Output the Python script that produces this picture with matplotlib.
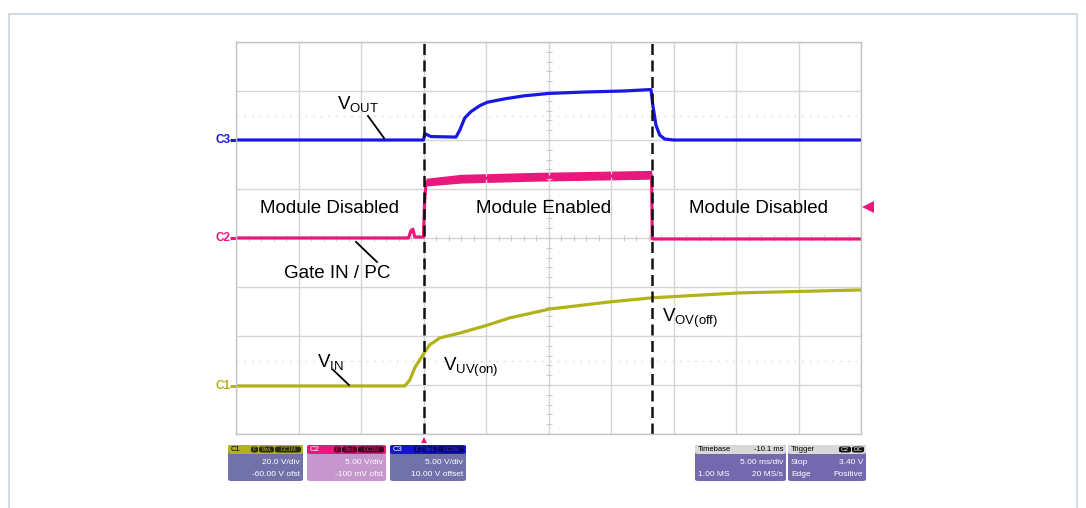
import numpy as np
import matplotlib
matplotlib.use('Agg')
import matplotlib.pyplot as plt
from matplotlib.patches import Rectangle, FancyBboxPatch

plt.rcParams['font.family'] = ['Liberation Sans', 'DejaVu Sans']
plt.rcParams['mathtext.fontset'] = 'custom'
plt.rcParams['mathtext.rm'] = 'Liberation Sans'

# ---- trace data (time in ms, amplitude in divisions) ----
t_c3 = [0, 15.0, 15.1, 15.6, 17.6, 17.9, 18.3, 18.8, 19.5, 20.1, 21.5, 23.0, 25.0, 28.0, 31.0, 33.2, 33.35, 33.6, 33.9, 34.3, 35.0, 50]
v_c3 = [6.0, 6.0, 6.13, 6.07, 6.06, 6.2, 6.45, 6.58, 6.7, 6.77, 6.84, 6.9, 6.95, 6.98, 7.0, 7.03, 6.7, 6.3, 6.1, 6.02, 6.0, 6.0]

t_c2 = [0, 13.8, 14.0, 14.15, 14.3, 15.0, 15.08, 15.2, 20.0, 33.25, 33.3, 50]
v_c2 = [4.0, 4.0, 4.15, 4.18, 4.02, 4.02, 4.7, 5.14, 5.22, 5.28, 3.98, 3.98]
t_c2_band = [15.2, 18.0, 24.0, 33.25]
c2_band_lo = [5.06, 5.12, 5.16, 5.2]
c2_band_hi = [5.22, 5.3, 5.34, 5.38]

t_c1 = [0, 13.5, 13.9, 14.3, 15.04, 15.5, 16.3, 17.9, 20.1, 21.9, 25.1, 29.7, 33.3, 40.3, 50]
v_c1 = [0.98, 0.98, 1.1, 1.35, 1.65, 1.82, 1.96, 2.06, 2.22, 2.37, 2.55, 2.69, 2.78, 2.88, 2.94]

marker_times = [15.04, 33.28]

C_BLUE = '#1818e0'
C_MAG = '#e8187c'
C_OLIVE = '#b2b21c'

W, H = 1086, 508
fig = plt.figure(figsize=(W / 100, H / 100), dpi=100)
fig.patch.set_facecolor('white')

def fx(px):
    return px / W

def fy(py):
    return 1 - py / H

# outer frame
fig.patches.append(Rectangle((fx(9), fy(530)), fx(1068), fy(14) - fy(530),
                             transform=fig.transFigure, fill=False, edgecolor='#c9d5dd', linewidth=1.2))

ax = fig.add_axes([fx(236), fy(434), fx(861 - 236), (434 - 42) / H])
ax.set_xlim(0, 50)
ax.set_ylim(0, 8)
ax.set_xticks(np.arange(0, 51, 5))
ax.set_yticks(np.arange(0, 9, 1))
ax.tick_params(length=0, labelbottom=False, labelleft=False)
ax.grid(True, color='#d6d6d6', linewidth=1.0)
for s in ax.spines.values():
    s.set_color('#c4c4c4')
    s.set_linewidth(1.0)

# center-line minor ticks and faint dotted reference lines
ax.plot(np.full(41, 25.0), np.arange(0, 8.01, 0.2), ls='none', marker='_', ms=4, color='#cccccc', mew=0.8)
ax.plot(np.arange(0, 50.01, 1.0), np.full(51, 4.0), ls='none', marker='|', ms=4, color='#cccccc', mew=0.8)
for yy in [1.5, 6.5]:
    ax.axhline(yy, color='#e0e0e0', linewidth=1.0, linestyle=(0, (1.5, 4)))

# traces
ax.plot(t_c1, v_c1, color=C_OLIVE, linewidth=2.3, solid_joinstyle='round')
ax.plot(t_c2, v_c2, color=C_MAG, linewidth=2.3, solid_joinstyle='round')
ax.fill_between(t_c2_band, c2_band_lo, c2_band_hi, color=C_MAG, linewidth=0)
ax.plot(t_c3, v_c3, color=C_BLUE, linewidth=2.3, solid_joinstyle='round')

for tm in marker_times:
    ax.axvline(tm, color='#111111', linewidth=1.8, linestyle=(0, (4.4, 2.2)))

# annotations
fs = 13.5
ax.text(8.08, 6.63, r'$\mathregular{V_{OUT}}$', fontsize=fs, va='baseline')
ax.plot([10.56, 11.84], [6.49, 6.04], color='black', linewidth=1.3)
ax.text(7.44, 4.61, 'Module Disabled', fontsize=fs, ha='center', va='center')
ax.text(24.6, 4.61, 'Module Enabled', fontsize=fs, ha='center', va='center')
ax.text(41.8, 4.61, 'Module Disabled', fontsize=fs, ha='center', va='center')
ax.text(8.12, 3.27, 'Gate IN / PC', fontsize=fs, ha='center', va='center')
ax.plot([9.6, 11.28], [3.92, 3.51], color='black', linewidth=1.3)
ax.text(6.48, 1.37, r'$\mathregular{V_{IN}}$', fontsize=fs, va='baseline')
ax.plot([7.76, 9.04], [1.31, 1.0], color='black', linewidth=1.3)
ax.text(16.56, 1.29, r'$\mathregular{V_{UV(on)}}$', fontsize=fs, va='baseline')
ax.text(34.08, 2.29, r'$\mathregular{V_{OV(off)}}$', fontsize=fs, va='baseline')

# channel markers on the left
for name, lvl, col in [('C3', 6.0, C_BLUE), ('C2', 4.0, C_MAG), ('C1', 0.98, C_OLIVE)]:
    ax.plot([-0.5, 0], [lvl, lvl], color=col, linewidth=2.2, clip_on=False, solid_capstyle='butt')
    ax.text(-0.45, lvl, name, color=col, fontsize=8.5, fontweight='bold', ha='right', va='center',
            fontstretch='condensed')

ax.plot([50.55], [4.63], marker='<', ms=9, color=C_MAG, clip_on=False, mew=0)
ax.plot([15.04], [-0.12], marker='^', ms=4, color=C_MAG, clip_on=False, mew=0)

# ---- scope info boxes ----
def box(x0, x1, y0, y1, color):
    fig.patches.append(FancyBboxPatch((fx(x0), fy(y1)), fx(x1 - x0), (y1 - y0) / H,
                                      boxstyle='round,pad=0,rounding_size=0.003', transform=fig.transFigure,
                                      facecolor=color, edgecolor='none'))

def ftext(px, py, s, ha='left', color='white', size=6.0):
    fig.text(fx(px), fy(py), s, ha=ha, va='center', color=color, fontsize=size)

chan_boxes = [
    (228, 303, C_OLIVE, '#7272aa', 'C1', ['20.0 V/div', '-60.00 V ofst']),
    (307, 386, C_MAG, '#c697cd', 'C2', ['5.00 V/div', '-100 mV ofst']),
    (390, 466, '#1212d0', '#7272aa', 'C3', ['5.00 V/div', '10.00 V offset']),
]
for x0, x1, hcol, bcol, name, lines in chan_boxes:
    box(x0, x1, 445, 481, bcol)
    box(x0, x1, 445, 454, hcol)
    # small dark tags in the header
    for tx0, tx1, tag in [(x1 - 52, x1 - 45, 'F'), (x1 - 44, x1 - 29, 'BwL'), (x1 - 28, x1 - 2, 'DC1M')]:
        box(tx0, tx1, 446.5, 452.5, '#2a2a1a' if name == 'C1' else '#3a0820' if name == 'C2' else '#0a0a60')
        ftext((tx0 + tx1) / 2, 449.5, tag, ha='center', color=hcol if name != 'C3' else '#3030ff', size=4)
    ftext(x0 + 3, 449.5, name, color='black' if name == 'C1' else 'white', size=5.5)
    ftext(x1 - 3, 463, lines[0], ha='right')
    ftext(x1 - 3, 474, lines[1], ha='right')

box(695, 786, 445, 481, '#7468ae')
box(695, 786, 445, 454, '#d8d8d8')
ftext(698, 449.5, 'Timebase', color='black', size=5.5)
ftext(783, 449.5, '-10.1 ms', ha='right', color='black', size=5.5)
ftext(783, 463, '5.00 ms/div', ha='right')
ftext(698, 474, '1.00 MS')
ftext(783, 474, '20 MS/s', ha='right')

box(788, 866, 445, 481, '#7468ae')
box(788, 866, 445, 454, '#d8d8d8')
ftext(791, 449.5, 'Trigger', color='black', size=5.5)
box(839, 851, 446.5, 452.5, '#111111')
box(852, 864, 446.5, 452.5, '#111111')
ftext(845, 449.5, 'C2', ha='center', size=4.5)
ftext(858, 449.5, 'DC', ha='center', size=4.5)
ftext(791, 463, 'Stop')
ftext(863, 463, '3.40 V', ha='right')
ftext(791, 474, 'Edge')
ftext(863, 474, 'Positive', ha='right')

fig.savefig('out.png', dpi=100, facecolor='white')
